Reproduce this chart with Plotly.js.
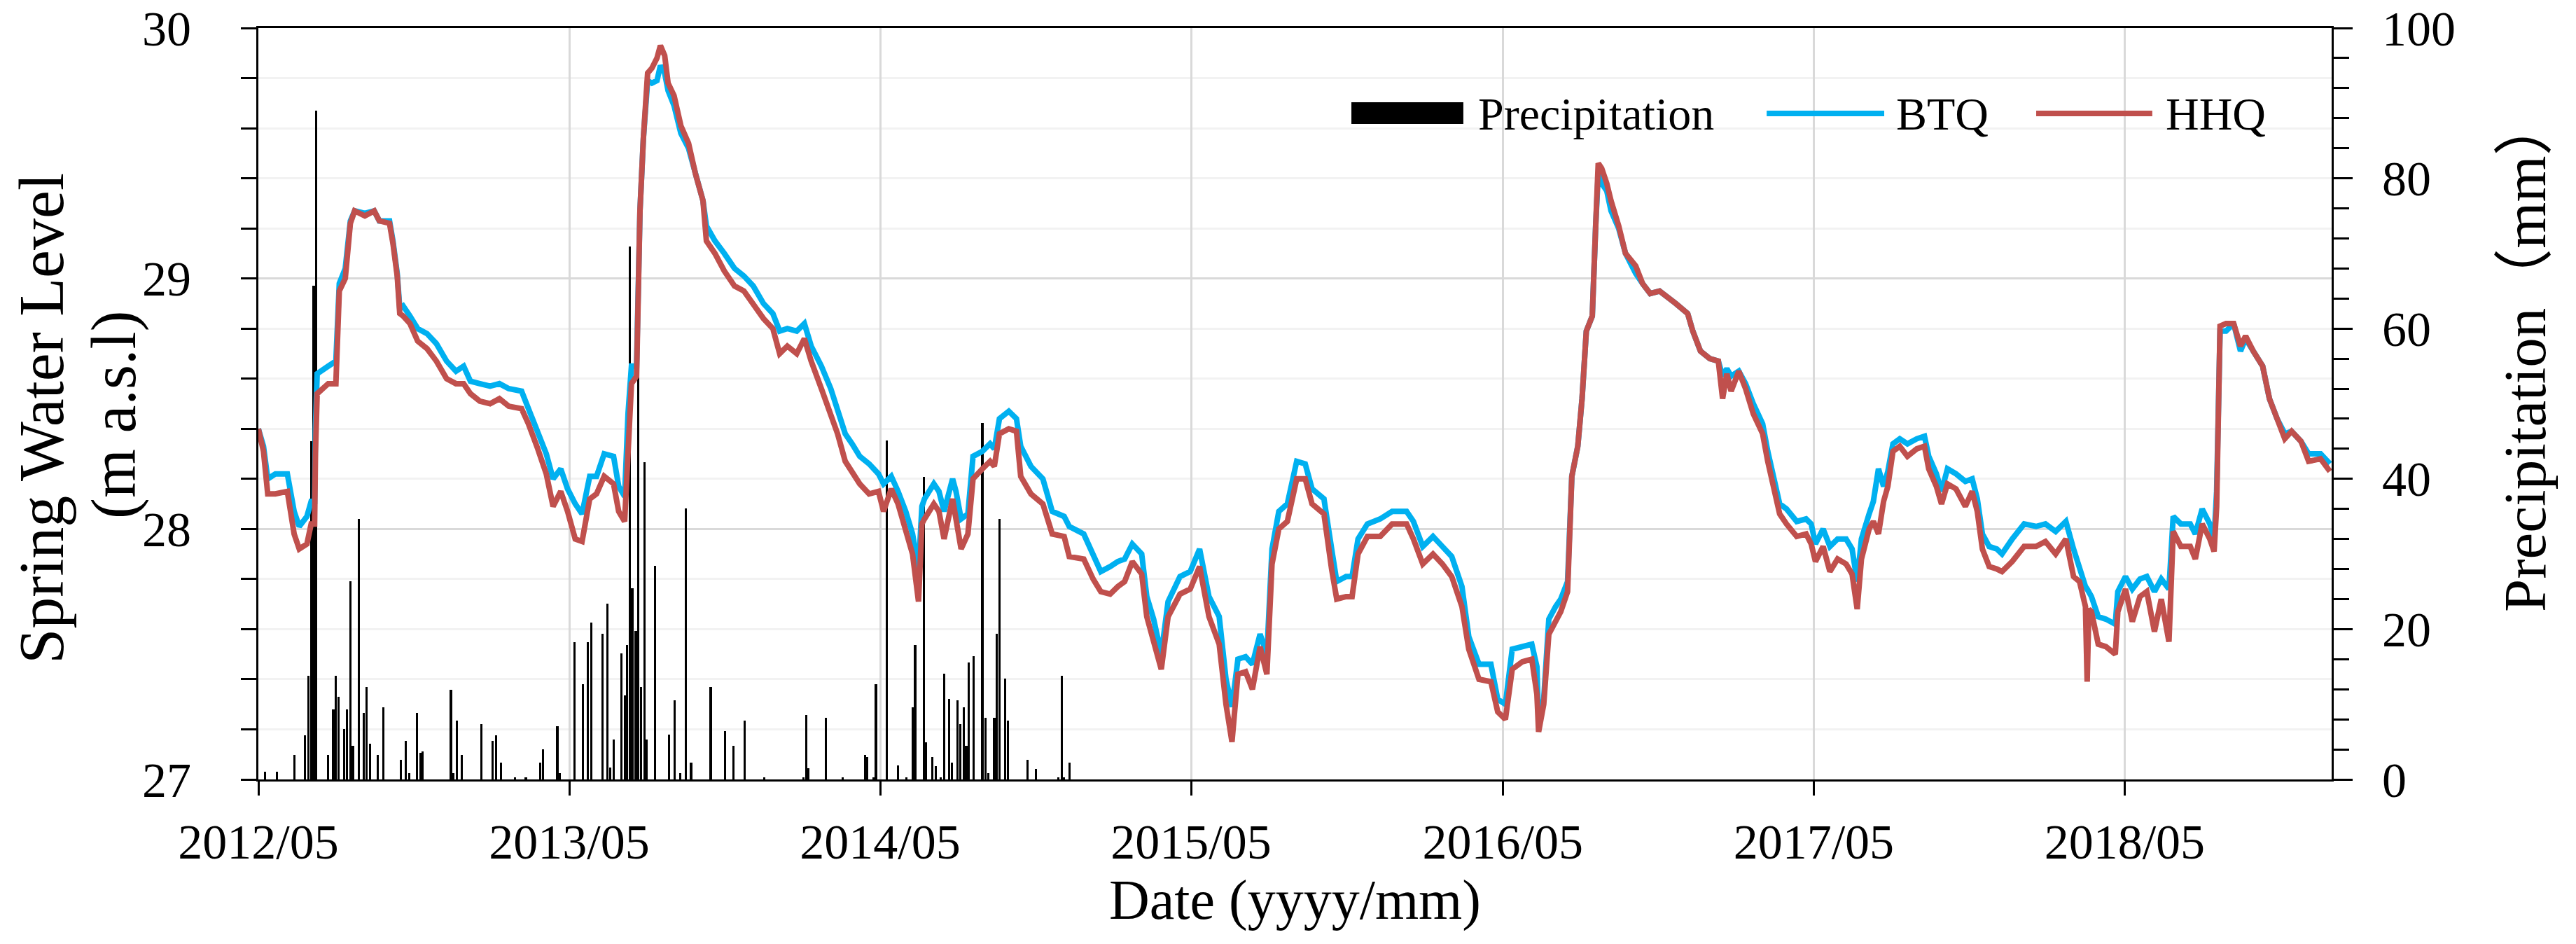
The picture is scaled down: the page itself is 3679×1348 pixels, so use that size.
<!DOCTYPE html>
<html>
<head>
<meta charset="utf-8">
<script src="https://cdn.plot.ly/plotly-3.0.1.min.js"></script>
<style>
  html, body { margin: 0; padding: 0; background: #ffffff; }
  #chart { width: 3679px; height: 1348px; }
</style>
</head>
<body>
<div id="chart"></div>
<script>
// ---------------- DATA ----------------
// Day offsets are counted from 2012-05-01.
const startDate = '2012-05-01';

// Spring water level sample days (shared by both springs)
const levelDays = [
  0, 6, 11, 20, 34, 42, 48, 57, 62, 66, 67, 69, 82, 91, 95, 102, 108, 113, 125, 136,
  142, 154, 158, 163, 166, 170, 178, 187, 198, 209, 221, 232, 241, 249, 260, 272, 283, 294, 309, 317,
  328, 338, 346, 355, 363, 372, 380, 389, 397, 406, 417, 423, 430, 434, 438, 444, 448, 452, 457, 462,
  468, 472, 477, 481, 488, 496, 505, 513, 522, 526, 536, 547, 559, 570, 581, 593, 604, 612, 621, 632,
  641, 649, 661, 672, 680, 689, 697, 706, 717, 728, 734, 743, 751, 760, 768, 775, 779, 782, 793, 799,
  805, 815, 819, 825, 833, 839, 850, 859, 864, 870, 881, 890, 895, 907, 921, 932, 946, 952, 969, 980,
  989, 1000, 1009, 1017, 1026, 1037, 1043, 1051, 1060, 1068, 1082, 1094, 1105, 1116, 1128, 1136, 1143, 1150, 1159, 1167,
  1176, 1184, 1190, 1198, 1208, 1219, 1229, 1237, 1251, 1260, 1266, 1277, 1284, 1291, 1302, 1317, 1331, 1348, 1356, 1367,
  1379, 1390, 1401, 1413, 1421, 1433, 1447, 1455, 1464, 1472, 1484, 1495, 1501, 1503, 1509, 1515, 1523, 1529, 1537, 1542,
  1549, 1554, 1559, 1566, 1570, 1573, 1577, 1583, 1588, 1597, 1605, 1617, 1625, 1634, 1645, 1653, 1664, 1678, 1684, 1693,
  1704, 1714, 1719, 1724, 1729, 1738, 1746, 1755, 1766, 1772, 1780, 1786, 1794, 1806, 1817, 1823, 1828, 1837, 1845, 1854,
  1864, 1871, 1877, 1882, 1891, 1896, 1902, 1908, 1913, 1919, 1927, 1936, 1947, 1956, 1961, 1970, 1976, 1983, 1993, 2004,
  2012, 2018, 2024, 2032, 2041, 2047, 2059, 2073, 2087, 2098, 2110, 2122, 2131, 2138, 2145, 2147, 2149, 2152, 2160, 2169,
  2180, 2183, 2192, 2200, 2209, 2217, 2226, 2234, 2243, 2248, 2257, 2268, 2274, 2282, 2291, 2296, 2299, 2303, 2310, 2319,
  2327, 2333, 2342, 2353, 2361, 2370, 2379, 2387, 2398, 2407, 2421, 2432
];

// BTQ spring water level (m a.s.l)
const btqLevel = [
  28.40, 28.33, 28.20, 28.22, 28.22, 28.07, 28.01, 28.05, 28.11, 28.11, 28.40, 28.62, 28.65, 28.67, 28.98, 29.04, 29.23, 29.27, 29.26, 29.27,
  29.23, 29.23, 29.15, 29.02, 28.88, 28.89, 28.85, 28.80, 28.78, 28.74, 28.67, 28.63, 28.65, 28.59, 28.58, 28.57, 28.58, 28.56, 28.55, 28.48,
  28.38, 28.30, 28.20, 28.24, 28.16, 28.10, 28.06, 28.21, 28.21, 28.30, 28.29, 28.17, 28.13, 28.46, 28.65, 28.65, 29.27, 29.56, 29.79, 29.78,
  29.79, 29.85, 29.82, 29.75, 29.69, 29.58, 29.52, 29.42, 29.31, 29.21, 29.15, 29.10, 29.04, 29.01, 28.97, 28.90, 28.86, 28.79, 28.80, 28.79,
  28.82, 28.73, 28.65, 28.56, 28.48, 28.38, 28.34, 28.29, 28.26, 28.22, 28.18, 28.21, 28.15, 28.07, 27.98, 27.84, 28.09, 28.12, 28.18, 28.15,
  28.07, 28.20, 28.15, 28.04, 28.06, 28.29, 28.31, 28.34, 28.32, 28.44, 28.47, 28.44, 28.33, 28.25, 28.20, 28.07, 28.05, 28.01, 27.98, 27.90,
  27.83, 27.85, 27.87, 27.88, 27.94, 27.90, 27.73, 27.64, 27.50, 27.71, 27.81, 27.83, 27.92, 27.73, 27.65, 27.40, 27.29, 27.48, 27.49, 27.46,
  27.58, 27.50, 27.92, 28.07, 28.10, 28.27, 28.26, 28.16, 28.12, 27.92, 27.79, 27.81, 27.81, 27.96, 28.02, 28.04, 28.07, 28.07, 28.03, 27.93,
  27.97, 27.93, 27.89, 27.77, 27.57, 27.46, 27.46, 27.32, 27.30, 27.52, 27.53, 27.54, 27.45, 27.23, 27.32, 27.64, 27.69, 27.72, 27.79, 28.21,
  28.33, 28.52, 28.79, 28.85, 29.21, 29.42, 29.38, 29.35, 29.27, 29.20, 29.10, 29.02, 28.98, 28.94, 28.95, 28.93, 28.90, 28.86, 28.79, 28.71,
  28.68, 28.67, 28.61, 28.64, 28.61, 28.63, 28.58, 28.50, 28.42, 28.31, 28.20, 28.10, 28.08, 28.03, 28.04, 28.02, 27.94, 28.00, 27.93, 27.96,
  27.96, 27.92, 27.79, 27.96, 28.06, 28.11, 28.24, 28.17, 28.23, 28.34, 28.36, 28.34, 28.36, 28.37, 28.29, 28.22, 28.15, 28.24, 28.22, 28.19,
  28.20, 28.12, 27.98, 27.93, 27.92, 27.90, 27.96, 28.02, 28.01, 28.02, 27.99, 28.03, 27.92, 27.84, 27.77, 27.76, 27.75, 27.73, 27.65, 27.64,
  27.62, 27.75, 27.81, 27.76, 27.80, 27.81, 27.75, 27.80, 27.76, 28.05, 28.02, 28.02, 27.98, 28.08, 28.02, 27.96, 28.15, 28.79, 28.79, 28.82,
  28.71, 28.76, 28.71, 28.65, 28.52, 28.44, 28.38, 28.39, 28.35, 28.30, 28.30, 28.26
];

// HHQ spring water level (m a.s.l)
const hhqLevel = [
  28.40, 28.31, 28.14, 28.14, 28.15, 27.98, 27.92, 27.94, 28.02, 28.02, 28.30, 28.54, 28.58, 28.58, 28.95, 29.00, 29.22, 29.27, 29.25, 29.27,
  29.23, 29.22, 29.14, 29.01, 28.86, 28.85, 28.82, 28.75, 28.72, 28.67, 28.60, 28.58, 28.58, 28.54, 28.51, 28.50, 28.52, 28.49, 28.48, 28.42,
  28.32, 28.22, 28.09, 28.15, 28.07, 27.96, 27.95, 28.12, 28.14, 28.21, 28.18, 28.07, 28.03, 28.32, 28.58, 28.61, 29.27, 29.56, 29.82, 29.84,
  29.88, 29.93, 29.89, 29.78, 29.73, 29.61, 29.54, 29.42, 29.31, 29.15, 29.10, 29.03, 28.97, 28.95, 28.90, 28.84, 28.80, 28.70, 28.73, 28.70,
  28.76, 28.67, 28.56, 28.46, 28.38, 28.27, 28.23, 28.18, 28.14, 28.15, 28.07, 28.16, 28.10, 28.00, 27.90, 27.71, 28.02, 28.04, 28.10, 28.07,
  27.96, 28.12, 28.05, 27.92, 27.98, 28.20, 28.24, 28.27, 28.25, 28.38, 28.40, 28.39, 28.21, 28.14, 28.10, 27.98, 27.97, 27.89, 27.88, 27.80,
  27.75, 27.74, 27.77, 27.79, 27.87, 27.82, 27.65, 27.56, 27.44, 27.65, 27.74, 27.76, 27.85, 27.65, 27.54, 27.30, 27.15, 27.42, 27.43, 27.36,
  27.53, 27.42, 27.86, 28.00, 28.03, 28.20, 28.20, 28.10, 28.06, 27.84, 27.72, 27.73, 27.73, 27.90, 27.97, 27.97, 28.02, 28.02, 27.96, 27.86,
  27.90, 27.86, 27.81, 27.69, 27.52, 27.40, 27.39, 27.27, 27.24, 27.44, 27.47, 27.48, 27.34, 27.19, 27.30, 27.58, 27.63, 27.67, 27.75, 28.21,
  28.33, 28.52, 28.79, 28.85, 29.21, 29.46, 29.44, 29.38, 29.31, 29.21, 29.10, 29.05, 28.98, 28.94, 28.95, 28.93, 28.90, 28.86, 28.79, 28.71,
  28.68, 28.67, 28.52, 28.62, 28.55, 28.63, 28.56, 28.46, 28.38, 28.27, 28.15, 28.06, 28.02, 27.97, 27.98, 27.94, 27.87, 27.93, 27.83, 27.88,
  27.86, 27.82, 27.68, 27.88, 28.00, 28.03, 27.98, 28.11, 28.17, 28.31, 28.33, 28.29, 28.32, 28.33, 28.24, 28.17, 28.10, 28.18, 28.16, 28.09,
  28.15, 28.07, 27.92, 27.85, 27.84, 27.83, 27.87, 27.93, 27.93, 27.95, 27.90, 27.96, 27.81, 27.79, 27.69, 27.39, 27.68, 27.67, 27.54, 27.53,
  27.50, 27.67, 27.76, 27.63, 27.73, 27.75, 27.59, 27.72, 27.55, 27.99, 27.93, 27.93, 27.88, 28.02, 27.96, 27.91, 28.09, 28.81, 28.82, 28.82,
  28.73, 28.77, 28.71, 28.65, 28.52, 28.44, 28.36, 28.39, 28.35, 28.27, 28.28, 28.23
];

// Precipitation events: day offsets and amounts (mm)
const rainDays = [
  8, 22, 42, 55, 59, 62, 65, 68, 82, 88, 91, 94, 101, 104, 108, 111, 118, 124, 127, 131,
  140, 147, 167, 173, 177, 186, 190, 193, 226, 229, 233, 239, 262, 275, 279, 285, 301, 314, 331, 334,
  351, 354, 371, 381, 387, 391, 404, 410, 413, 417, 426, 430, 433, 436, 439, 443, 446, 449, 453, 456,
  466, 482, 489, 495, 502, 508, 531, 548, 558, 571, 594, 640, 643, 646, 666, 686, 712, 715, 722, 725,
  738, 751, 761, 768, 771, 781, 784, 791, 795, 801, 805, 811, 814, 821, 824, 828, 831, 834, 840, 850,
  854, 857, 864, 867, 870, 877, 880, 903, 913, 939, 943, 946, 952
];
const rainMm = [
  1.0, 1.0, 3.3, 5.9, 13.8, 45.0, 65.7, 89.0, 3.3, 9.3, 13.8, 11.0, 6.7, 9.3, 26.4, 4.5, 34.7, 8.9, 12.3, 4.8,
  3.3, 9.6, 2.6, 5.1, 0.8, 8.9, 3.5, 3.7, 11.9, 0.8, 7.8, 3.3, 7.4, 5.1, 5.9, 2.2, 0.3, 0.3, 2.2, 4.0,
  7.1, 0.8, 18.3, 12.7, 18.3, 20.9, 19.4, 23.4, 1.6, 5.3, 16.8, 11.2, 17.9, 70.9, 25.4, 19.8, 53.7, 12.3, 42.2, 5.3,
  28.4, 6.0, 10.5, 0.8, 36.1, 2.2, 12.3, 6.4, 4.5, 7.8, 0.3, 0.3, 8.6, 1.5, 8.2, 0.3, 3.3, 3.0, 0.3, 12.7,
  45.1, 1.9, 0.3, 9.6, 17.9, 40.3, 4.9, 3.0, 1.8, 0.3, 14.1, 10.7, 2.2, 10.5, 7.4, 9.6, 4.5, 15.6, 16.4, 47.4,
  8.2, 0.8, 8.2, 19.4, 34.7, 13.4, 7.8, 2.6, 1.4, 0.3, 13.8, 0.3, 2.2
];

// Text
const legendNames = ['Precipitation', 'BTQ', 'HHQ'];
const xTitle = 'Date (yyyy/mm)';
const yLeftTitleLines = ['Spring Water Level', '(m a.s.l)'];
const yRightTitle = 'Precipitation（mm）';

// ---------------- helpers ----------------
const T0 = Date.parse(startDate + 'T00:00:00Z');
const toDate = d => new Date(T0 + d * 86400000).toISOString().slice(0, 10);
const levelDates = levelDays.map(toDate);
const rainDates = rainDays.map(toDate);

const serif = '"Liberation Serif", "Times New Roman", "Noto Sans CJK SC", serif';
const colBTQ = '#00B0F0';
const colHHQ = '#C0504D';

const traces = [
  {
    type: 'bar', name: legendNames[0], x: rainDates, y: rainMm,
    xaxis: 'x', yaxis: 'y',
    width: rainDates.map(() => 2.6 * 86400000),
    marker: { color: '#000000', line: { width: 0 } },
    showlegend: false
  },
  {
    type: 'scatter', mode: 'lines', name: legendNames[1], x: levelDates, y: btqLevel,
    xaxis: 'x', yaxis: 'y2',
    line: { color: colBTQ, width: 8 }, showlegend: false
  },
  {
    type: 'scatter', mode: 'lines', name: legendNames[2], x: levelDates, y: hhqLevel,
    xaxis: 'x', yaxis: 'y2',
    line: { color: colHHQ, width: 8 }, showlegend: false
  }
];

// Custom legend geometry (paper coords)
const legY = 0.8863;
const shapes = [
  { type: 'rect', xref: 'paper', yref: 'paper', x0: 0.5272, x1: 0.5812, y0: 0.8723, y1: 0.9012,
    fillcolor: '#000000', line: { width: 0 } },
  { type: 'line', xref: 'paper', yref: 'paper', x0: 0.7275, x1: 0.7842, y0: legY, y1: legY,
    line: { color: colBTQ, width: 8 } },
  { type: 'line', xref: 'paper', yref: 'paper', x0: 0.8575, x1: 0.9135, y0: legY, y1: legY,
    line: { color: colHHQ, width: 8 } }
];
const annotations = [
  { text: legendNames[0], x: 0.5876, y: legY, xref: 'paper', yref: 'paper', xanchor: 'left', yanchor: 'middle',
    showarrow: false, font: { family: serif, size: 66, color: '#000' } },
  { text: legendNames[1], x: 0.7893, y: legY, xref: 'paper', yref: 'paper', xanchor: 'left', yanchor: 'middle',
    showarrow: false, font: { family: serif, size: 66, color: '#000' } },
  { text: legendNames[2], x: 0.9193, y: legY, xref: 'paper', yref: 'paper', xanchor: 'left', yanchor: 'middle',
    showarrow: false, font: { family: serif, size: 66, color: '#000' } },
  // left axis title (two lines)
  { text: yLeftTitleLines[0], x: -0.1044, y: 0.4809, xref: 'paper', yref: 'paper', xanchor: 'center', yanchor: 'middle',
    textangle: -90, showarrow: false, font: { family: serif, size: 90, color: '#000' } },
  { text: yLeftTitleLines[1], x: -0.0696, y: 0.4855, xref: 'paper', yref: 'paper', xanchor: 'center', yanchor: 'middle',
    textangle: -90, showarrow: false, font: { family: serif, size: 90, color: '#000' } },
  // right axis title
  { text: yRightTitle, x: 1.0932, y: 0.5666, xref: 'paper', yref: 'paper', xanchor: 'center', yanchor: 'middle',
    textangle: -90, showarrow: false, font: { family: serif, size: 85, color: '#000' } }
];

const layout = {
  width: 3679, height: 1348,
  margin: { l: 369, r: 349, t: 40, b: 235, pad: 0 },
  paper_bgcolor: '#ffffff', plot_bgcolor: '#ffffff',
  showlegend: false,
  bargap: 0,
  font: { family: serif, color: '#000000', size: 70 },
  xaxis: {
    type: 'date',
    range: [startDate, '2018-12-30'],
    tick0: startDate, dtick: 'M12', tickformat: '%Y/%m',
    ticks: 'outside', ticklen: 20, tickwidth: 3, tickcolor: '#000',
    showgrid: true, gridcolor: '#d9d9d9', gridwidth: 3,
    showline: true, linecolor: '#000', linewidth: 3, mirror: true,
    zeroline: false,
    tickfont: { family: serif, size: 70, color: '#000' },
    ticklabelstandoff: 6,
    title: { text: xTitle, font: { family: serif, size: 80, color: '#000' }, standoff: 6 },
    anchor: 'y'
  },
  yaxis: {
    range: [0, 100], dtick: 20, tick0: 0,
    side: 'right',
    ticks: 'outside', ticklen: 27, tickwidth: 3, tickcolor: '#000',
    minor: { dtick: 4, ticks: 'outside', ticklen: 22, tickwidth: 3, tickcolor: '#000', showgrid: false },
    showgrid: false, zeroline: false,
    showline: true, linecolor: '#000', linewidth: 3,
    tickfont: { family: serif, size: 70, color: '#000' },
    ticklabelstandoff: 28,
    anchor: 'x'
  },
  yaxis2: {
    range: [27, 30], dtick: 1, tick0: 27,
    side: 'left', overlaying: 'y',
    ticks: 'outside', ticklen: 22, tickwidth: 3, tickcolor: '#000',
    minor: { dtick: 0.2, ticks: 'outside', ticklen: 22, tickwidth: 3, tickcolor: '#000',
             showgrid: true, gridcolor: '#f2f2f2', gridwidth: 3 },
    showgrid: true, gridcolor: '#d9d9d9', gridwidth: 3,
    zeroline: false,
    showline: true, linecolor: '#000', linewidth: 3,
    tickfont: { family: serif, size: 70, color: '#000' },
    ticklabelstandoff: 57,
    anchor: 'x'
  },
  shapes: shapes,
  annotations: annotations
};

Plotly.newPlot('chart', traces, layout, { displayModeBar: false, staticPlot: true });
</script>
</body>
</html>
